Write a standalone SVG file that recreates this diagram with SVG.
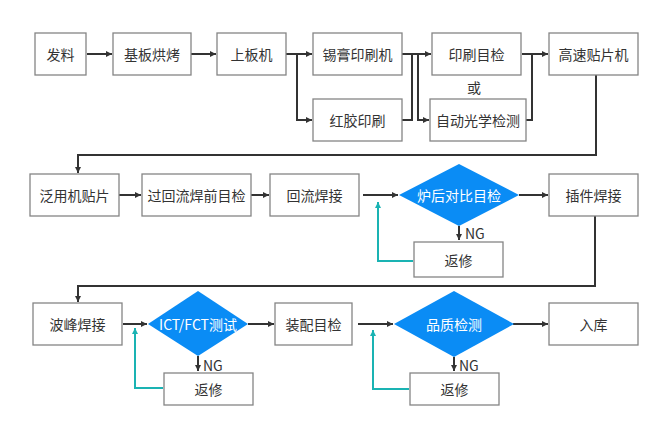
<svg xmlns="http://www.w3.org/2000/svg" width="660" height="430" viewBox="0 0 660 430">
<defs>
<marker id="ah" markerUnits="userSpaceOnUse" markerWidth="7" markerHeight="7" refX="6" refY="3.5" orient="auto"><path d="M0,0.5 L6,3.5 L0,6.5 z" fill="#333"/></marker>
<marker id="aht" markerUnits="userSpaceOnUse" markerWidth="7" markerHeight="7" refX="6" refY="3.5" orient="auto"><path d="M0,0.5 L6,3.5 L0,6.5 z" fill="#1ab3b3"/></marker>
<style>
.b{fill:#fff;stroke:#858585;stroke-width:1.3}
.d{fill:#0a8cf5}
.t{font-family:"Noto Sans CJK SC","Liberation Sans",sans-serif;font-size:14px;fill:#333;text-anchor:middle;dominant-baseline:central}
.n{font-family:"Noto Sans CJK SC","Liberation Sans",sans-serif;font-size:14px;fill:#333;dominant-baseline:central}
.w{font-family:"Noto Sans CJK SC","Liberation Sans",sans-serif;font-size:14px;fill:#fff;text-anchor:middle;dominant-baseline:central}
.c{fill:none;stroke:#333;stroke-width:2}
.a{marker-end:url(#ah)}
.g{fill:none;stroke:#1ab3b3;stroke-width:2;marker-end:url(#aht)}
</style>
</defs>
<rect width="660" height="430" fill="#fff"/>
<g id="connectors">
<path class="c a" d="M87,54 H112"/>
<path class="c a" d="M191,54 H216"/>
<path class="c a" d="M286,54 H312"/>
<path class="c a" d="M297,54 V120 H312"/>
<path class="c a" d="M402,54 H431"/>
<path class="c" d="M402,120 H412 V54"/>
<path class="c a" d="M418,54 V120 H429"/>
<path class="c" d="M526,120 H532 V54"/>
<path class="c a" d="M522,54 H548"/>
<path class="c a" d="M596,75 V155 H78 V173"/>
<path class="c a" d="M119,195 H141"/>
<path class="c a" d="M251,195 H269"/>
<path class="c a" d="M363,195 H398"/>
<path class="c a" d="M519,195 H548"/>
<path class="c a" d="M459,226 V240"/>
<path class="g" d="M413,261 H378 V202"/>
<path class="c a" d="M595,216 V286 H78 V302"/>
<path class="c a" d="M123,324 H147"/>
<path class="c a" d="M248,324 H274"/>
<path class="c a" d="M198,356 V371"/>
<path class="g" d="M163,388 H135 V328"/>
<path class="c a" d="M358,324 H393"/>
<path class="c a" d="M513,324 H548"/>
<path class="c a" d="M454,357 V371"/>
<path class="g" d="M409,389 H373 V330"/>
</g>
<g id="n1"><rect class="b" x="35" y="33" width="51" height="42"/><text class="t" x="60.5" y="54">发料</text></g>
<g id="n2"><rect class="b" x="113" y="33" width="78" height="42"/><text class="t" x="152" y="54">基板烘烤</text></g>
<g id="n3"><rect class="b" x="217" y="33" width="69" height="42"/><text class="t" x="251.5" y="54">上板机</text></g>
<g id="n4"><rect class="b" x="313" y="33" width="89" height="42"/><text class="t" x="357.5" y="54">锡膏印刷机</text></g>
<g id="n5"><rect class="b" x="313" y="99" width="89" height="42"/><text class="t" x="357.5" y="120">红胶印刷</text></g>
<g id="n6"><rect class="b" x="432" y="33" width="89" height="42"/><text class="t" x="476.5" y="54">印刷目检</text></g>
<g id="or"><text class="t" x="474" y="87">或</text></g>
<g id="n7"><rect class="b" x="430" y="99" width="96" height="42"/><text class="t" x="478" y="120">自动光学检测</text></g>
<g id="n8"><rect class="b" x="549" y="33" width="89" height="42"/><text class="t" x="593.5" y="54">高速贴片机</text></g>
<g id="n9"><rect class="b" x="30" y="174" width="89" height="42"/><text class="t" x="74.5" y="195">泛用机贴片</text></g>
<g id="n10"><rect class="b" x="142" y="174" width="109" height="42"/><text class="t" x="196.5" y="195">过回流焊前目检</text></g>
<g id="n11"><rect class="b" x="270" y="174" width="89" height="42"/><text class="t" x="314.5" y="195">回流焊接</text></g>
<g id="n12"><polygon class="d" points="399,195 459,164 519,195 459,226"/><text class="w" x="459" y="195">炉后对比目检</text></g>
<g id="n13"><rect class="b" x="549" y="174" width="89" height="42"/><text class="t" x="593.5" y="195">插件焊接</text></g>
<g id="ng1"><text class="n" x="465" y="233">NG</text></g>
<g id="n14"><rect class="b" x="414" y="242" width="89" height="35"/><text class="t" x="458.5" y="259.5">返修</text></g>
<g id="n15"><rect class="b" x="33" y="303" width="89" height="42"/><text class="t" x="77.5" y="324">波峰焊接</text></g>
<g id="n16"><polygon class="d" points="148,324 198,291 248,324 198,356"/><text class="w" x="198" y="324">ICT/FCT测试</text></g>
<g id="ng2"><text class="n" x="203" y="365">NG</text></g>
<g id="n17"><rect class="b" x="164" y="373" width="89" height="32"/><text class="t" x="208.5" y="389">返修</text></g>
<g id="n18"><rect class="b" x="275" y="303" width="77" height="42"/><text class="t" x="313.5" y="324">装配目检</text></g>
<g id="n19"><polygon class="d" points="394,324 454,291 514,324 454,357"/><text class="w" x="454" y="324">品质检测</text></g>
<g id="ng3"><text class="n" x="459" y="365">NG</text></g>
<g id="n20"><rect class="b" x="410" y="373" width="89" height="32"/><text class="t" x="454.5" y="389">返修</text></g>
<g id="n21"><rect class="b" x="549" y="303" width="89" height="42"/><text class="t" x="593.5" y="324">入库</text></g>
</svg>
